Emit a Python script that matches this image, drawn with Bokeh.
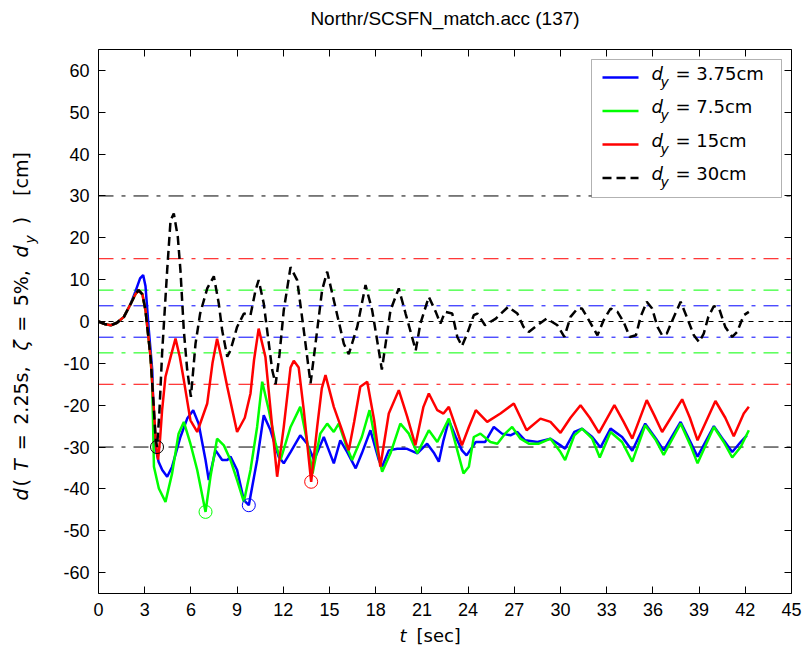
from math import pi
from bokeh.plotting import figure
from bokeh.models import Range1d, FixedTicker, LinearAxis, Label, BoxAnnotation
from bokeh.embed import file_html
from bokeh.resources import INLINE

# ---------------- data ----------------
title_text = "Northr/SCSFN_match.acc (137)"
x_ticks = list(range(0, 46, 3))
y_ticks = list(range(-60, 61, 10))
dy_values = [3.75, 7.5, 15, 30]
dy_labels = ["= 3.75cm", "= 7.5cm", "= 15cm", "= 30cm"]
series_colors = ["#0000ff", "#00ff00", "#ff0000", "#000000"]

blue_pts = [(0,0),(0.4,-0.6),(0.8,-0.9),(1.2,-0.3),(1.65,1.1),(2.1,4.3),(2.4,7.2),(2.7,10.3),(2.9,11.1),
    (3.05,8.5),(3.27,-2.1),(3.49,-11.6),(3.6,-25.2),(3.7,-30),(3.9,-33.5),(4.14,-35.5),(4.46,-37.1),
    (4.78,-34.7),(5.32,-27.6),(5.76,-23.2),(6.15,-21.2),(6.5,-24.4),(6.95,-33.1),(7.16,-37.9),(7.6,-30.8),
    (8.03,-33.1),(8.36,-33.1),(8.57,-32.3),(9.0,-35.5),(9.44,-42.7),(9.76,-43.9),(10.3,-33.1),(10.73,-22.4),
    (11.17,-26),(11.7,-32.3),(12.03,-33.9),(12.47,-31.2),(13.1,-27.2),(13.55,-29.2),(14.0,-33.1),(14.4,-29.6),
    (14.63,-27.6),(15.28,-33.9),(15.7,-28.4),(16.15,-31.2),(16.7,-35.1),(17.1,-31.5),(17.66,-26),(18.2,-33.1),
    (18.42,-34.7),(18.85,-30.8),(19.4,-30.4),(20.0,-30.4),(20.7,-31.5),(21.34,-29.2),(21.8,-31.5),(22.1,-33.5),
    (22.4,-28.4),(22.75,-23.6),(23.2,-27.6),(23.6,-30.8),(23.9,-32),(24.5,-28.8),(25.1,-28.8),(25.67,-25.2),
    (26.2,-26.8),(26.75,-27.2),(27.2,-26.4),(27.7,-28.4),(28.5,-28.8),(29.35,-28),(30.0,-29.6),(30.3,-30.4),
    (30.9,-26.4),(31.4,-25.6),(32.06,-27.6),(32.6,-30.1),(33.25,-25.6),(34.0,-27.6),(34.66,-30.9),(35.5,-24.4),
    (36.2,-28),(36.7,-30.8),(37.8,-24),(38.44,-28.8),(38.9,-32.3),(39.96,-25),(40.6,-28.4),(41.15,-31.2),
    (41.7,-28.8),(42.1,-27.2)]

green_pts = [(0,0),(0.4,-0.6),(0.8,-0.9),(1.2,-0.3),(1.65,1.1),(2.1,4.3),(2.4,6.5),(2.6,7.5),(2.85,6.5),
    (3.05,2.7),(3.38,-8.5),(3.49,-15),(3.6,-34.7),(3.92,-39.9),(4.35,-43.1),(4.78,-36.3),(5.2,-26.8),
    (5.54,-24),(5.97,-29.2),(6.41,-35.5),(6.95,-45.5),(7.27,-37.1),(7.7,-28),(8.14,-29.6),(8.57,-33.1),
    (9.0,-37.9),(9.44,-43.1),(9.87,-35.5),(10.3,-25.2),(10.63,-14.4),(11.06,-21.2),(11.5,-29.2),(11.82,-33.1),
    (12.47,-25.2),(13.1,-20.4),(13.66,-30.8),(13.9,-36.3),(14.4,-26.8),(14.85,-24.4),(15.28,-26.4),(15.6,-24.4),
    (16.04,-29.2),(16.47,-33.1),(17.1,-27.6),(17.6,-21.2),(18.1,-30.8),(18.42,-35.9),(18.96,-31.5),(19.6,-24.4),
    (20.15,-26.8),(20.7,-31.5),(21.45,-26),(22.0,-28.8),(22.75,-23.2),(23.3,-30.8),(23.7,-36.3),(24.05,-34.7),
    (24.37,-27.6),(24.8,-26.8),(25.45,-28.8),(25.9,-29.2),(26.4,-26.8),(26.86,-25.2),(27.4,-28),(27.94,-29.2),
    (28.6,-29.2),(29.35,-28),(30.0,-31.2),(30.3,-33.1),(30.9,-27.2),(31.4,-25.6),(32.06,-28),(32.55,-32.5),
    (33.25,-26.4),(34.0,-28.8),(34.66,-33.5),(35.5,-24.8),(36.2,-28.4),(36.7,-31.9),(37.8,-24.4),(38.44,-29.6),
    (38.9,-33.9),(39.96,-25.2),(40.6,-28.8),(41.15,-32.5),(41.7,-30),(42.23,-26)]

red_pts = [(0,0),(0.4,-0.6),(0.8,-0.9),(1.2,-0.3),(1.65,1.1),(2.1,4.3),(2.4,6.5),(2.6,7.5),(2.85,6.5),
    (3.05,2.7),(3.38,-8.5),(3.6,-21.2),(3.75,-30),(3.87,-33),(4.0,-28),(4.13,-21.2),(4.35,-13.2),(4.68,-8.5),
    (5.0,-4.1),(5.28,-8.5),(5.54,-14),(5.97,-23.6),(6.41,-26.4),(7.06,-19.6),(7.4,-10),(7.7,-4.1),(8.0,-9),
    (8.36,-15.6),(9.0,-26.4),(9.5,-23),(9.87,-17.2),(10.1,-9.2),(10.4,-1.7),(10.84,-8.5),(11.28,-25.2),
    (11.6,-37.1),(12.03,-25.2),(12.47,-11),(12.68,-9.4),(13.0,-11),(13.33,-21.2),(13.81,-38.3),(14.2,-25.2),
    (14.5,-16),(14.74,-12.8),(15.28,-20.4),(15.82,-26),(16.25,-30.8),(16.6,-24),(17.0,-15.6),(17.45,-14.4),
    (17.9,-23.6),(18.3,-34.7),(18.85,-22),(19.5,-16.4),(20.05,-22.8),(20.58,-29.6),(21.1,-20.4),(21.45,-17.2),
    (22.0,-21.2),(22.4,-22),(22.75,-20.4),(23.2,-25.2),(23.6,-29.6),(24.05,-25.2),(24.5,-21.2),(25.24,-24),
    (26.1,-22),(26.97,-19.6),(27.8,-26),(28.7,-23.2),(29.35,-24),(30.0,-26.6),(30.65,-23),(31.3,-20),
    (31.9,-23),(32.5,-26.6),(33.5,-20),(34.1,-24),(34.66,-28),(35.6,-18.8),(36.1,-22.5),(36.6,-26.4),
    (37.9,-18.6),(38.4,-23),(38.9,-28.4),(40.06,-19),(40.7,-23),(41.25,-27.4),(41.9,-22),(42.23,-20.4)]

black_pts = [(0,0),(0.4,-0.6),(0.8,-0.9),(1.2,-0.3),(1.65,1.1),(2.1,4.3),(2.4,6.5),(2.6,7.5),(2.85,6.5),
    (3.05,2.7),(3.38,-8.5),(3.6,-21.2),(3.7,-27.6),(3.8,-30),(3.95,-22),(4.13,-7.6),(4.46,12.3),(4.68,24.2),
    (4.89,25.8),(5.15,20.2),(5.32,12.3),(5.54,-2.1),(5.76,-11.6),(6.0,-18),(6.3,-5.3),(6.6,1.9),(7.06,7.9),
    (7.49,10.8),(7.81,4.3),(8.03,-2.1),(8.36,-8.4),(8.57,-6.9),(9.0,-1.3),(9.44,1.9),(9.87,1.5),(10.2,7.5),
    (10.4,9.9),(10.73,4.3),(11.28,-11.6),(11.5,-15),(11.75,-8),(12.03,2.7),(12.47,13.0),(12.9,9.9),
    (13.33,-2.1),(13.77,-14.8),(14.2,-2.1),(14.52,7.5),(14.85,11.9),(15.28,5.1),(15.93,-5.3),(16.25,-7.8),
    (16.8,-1.3),(17.34,8.7),(17.77,2.7),(18.2,-6.9),(18.4,-11.5),(18.96,2.7),(19.5,7.9),(19.94,1.9),
    (20.6,-6.9),(20.9,-0.5),(21.45,5.9),(21.9,2.3),(22.2,-0.5),(22.5,2.3),(22.97,1.9),(23.3,-3.7),(23.6,-5.9),
    (23.94,-2.9),(24.37,1.5),(24.6,1.9),(25.1,-0.9),(25.8,0.7),(26.6,3.5),(27.2,1.9),(27.6,-1.3),(27.94,-2.5),
    (28.5,-0.9),(29.1,0.7),(29.8,-0.9),(30.25,-3.7),(30.65,1.1),(31.1,3.1),(31.4,3.1),(31.84,0.3),(32.4,-3.3),
    (32.8,0.3),(33.25,3.1),(33.7,2.3),(34.1,-0.1),(34.5,-3.7),(34.9,-3.3),(35.2,1.1),(35.6,4.7),(35.95,3.1),
    (36.3,-1.3),(36.6,-3.3),(36.9,-2.9),(37.36,1.1),(37.8,4.7),(38.2,1.1),(38.66,-3.3),(39.0,-4.9),(39.3,-2.9),
    (39.6,1.1),(39.96,3.7),(40.3,3.1),(40.7,-1.3),(41.15,-3.7),(41.47,-2.5),(41.9,1.5),(42.23,2.3)]

# peak |d| markers (circled points)
peak_t = [9.76, 6.95, 13.81, 3.8]
peak_d = [-43.9, -45.5, -38.3, -30.0]

# ---------------- geometry ----------------
W, H = 802, 657
FL, FR, FT, FB = 98, 791, 49, 593          # axes box edges in page pixels
X0, X1, Y0, Y1 = 0, 45, -65, 65            # axes limits

def px2x(px):
    return X0 + (px - FL) * (X1 - X0) / (FR - FL)

def py2y(py):
    return Y0 + (FB - py) * (Y1 - Y0) / (FB - FT)

# the frame covers the whole canvas; the axes are drawn at fixed locations
p = figure(width=W, height=H, min_border=0,
           x_range=Range1d(px2x(0), px2x(W)), y_range=Range1d(py2y(H), py2y(0)),
           output_backend="svg", toolbar_location=None)
p.background_fill_color = "white"
p.border_fill_color = "white"
p.outline_line_color = None
p.xgrid.visible = False
p.ygrid.visible = False

TICK_FONT = "Liberation Sans"
TEX_FONT = "DejaVu Sans"

def style_axis(ax, ticks, show_labels):
    ax.ticker = FixedTicker(ticks=ticks)
    ax.axis_line_color = "black"
    ax.axis_line_width = 1
    ax.major_tick_line_color = "black"
    ax.major_tick_in = 7
    ax.major_tick_out = 0
    ax.minor_tick_line_color = None
    ax.major_label_text_font = TICK_FONT
    ax.major_label_text_color = "black"
    ax.major_label_text_font_size = "18px"
    if show_labels:
        ax.major_label_overrides = {v: str(v) for v in ticks}
    else:
        ax.major_label_overrides = {v: "" for v in ticks}
        ax.major_label_text_alpha = 0

xb = p.xaxis[0]
style_axis(xb, x_ticks, True)
xb.fixed_location = Y0
xb.bounds = (X0, X1)
xb.major_label_standoff = 9

yl = p.yaxis[0]
style_axis(yl, y_ticks, True)
yl.fixed_location = X0
yl.bounds = (Y0, Y1)
yl.major_label_standoff = 9

top_ax = LinearAxis(fixed_location=Y1, bounds=(X0, X1))
style_axis(top_ax, x_ticks, False)
p.add_layout(top_ax, "above")
right_ax = LinearAxis(fixed_location=X1, bounds=(Y0, Y1))
style_axis(right_ax, y_ticks, False)
p.add_layout(right_ax, "right")

# ---------------- reference lines ----------------
DASHDOT = "15 8 4 8"
for v, c in zip(dy_values, series_colors):
    for s in (1, -1):
        p.line([X0, X1], [s * v, s * v], line_color=c, line_width=1, line_dash=DASHDOT)
p.line([X0, X1], [0, 0], line_color="black", line_width=1, line_dash="5 5")

# ---------------- series ----------------
all_pts = [blue_pts, green_pts, red_pts, black_pts]
for pts, c in zip(all_pts, series_colors):
    t = [a for a, b in pts]
    d = [b for a, b in pts]
    if c == "#000000":
        p.line(t, d, line_color=c, line_width=2.5, line_dash="9 5")
    else:
        p.line(t, d, line_color=c, line_width=2.5)

p.scatter(peak_t, peak_d, marker="circle", size=13, fill_color=None,
          line_color=series_colors, line_width=1)

# ---------------- legend (drawn by hand for the subscript) ----------------
p.add_layout(BoxAnnotation(left=px2x(591), right=px2x(781), top=py2y(59), bottom=py2y(197),
                           fill_color="white", fill_alpha=1.0, line_color="black", line_width=1))
row_y = [77, 110.5, 144, 177.5]
for ry, c, lab in zip(row_y, series_colors, dy_labels):
    r = p.line([px2x(602), px2x(638)], [py2y(ry), py2y(ry)], line_color=c, line_width=2.5,
               line_dash=("9 5" if c == "#000000" else "solid"))
    r.level = "overlay"
    p.add_layout(Label(x=px2x(651), y=py2y(ry + 6), text="d", text_font=TEX_FONT, text_color="black",
                       text_font_style="italic", text_font_size="18px"))
    p.add_layout(Label(x=px2x(660), y=py2y(ry + 12), text="y", text_font=TEX_FONT, text_color="black",
                       text_font_style="italic", text_font_size="14px"))
    p.add_layout(Label(x=px2x(675), y=py2y(ry + 6), text=lab, text_font=TEX_FONT, text_color="black",
                       text_font_size="18px"))

# ---------------- title ----------------
p.add_layout(Label(x=px2x((FL + FR) / 2), y=py2y(28), text=title_text, text_align="center",
                   text_font=TICK_FONT, text_font_size="19px", text_color="black"))

# ---------------- x label ----------------
p.add_layout(Label(x=px2x(399), y=py2y(645), text="t", text_font=TEX_FONT, text_color="black",
                   text_font_style="italic", text_font_size="18px"))
p.add_layout(Label(x=px2x(416), y=py2y(645), text="[sec]", text_font=TEX_FONT, text_color="black",
                   text_font_size="18px"))

# ---------------- y label (rotated pieces, reading upwards) ----------------
# (text, style, font px, advance in em, gap after in em, baseline shift px)
ylab_pieces = [("d", "italic", 19, 0.635, 0.0, 0), ("(", "normal", 19, 0.390, 0.33, 0),
               ("T", "italic", 19, 0.611, 0.33, 0), ("=", "normal", 19, 0.838, 0.33, 0),
               ("2.25s,", "normal", 19, 3.065, 0.33, 0), ("\u03b6", "italic", 19, 0.52, 0.33, 0),
               ("=", "normal", 19, 0.838, 0.33, 0), ("5%,", "normal", 19, 1.904, 0.33, 0),
               ("d", "italic", 19, 0.635, 0.0, 0), ("y", "italic", 14, 0.592, 0.45, 6),
               (")", "normal", 19, 0.390, 0.9, 0), ("[cm]", "normal", 19, 2.304, 0.0, 0)]
start_py, end_py = 500, 145
natural = sum(adv * fs + gap * 19 for _, _, fs, adv, gap, _ in ylab_pieces)
stretch = (start_py - end_py) / natural
pos = start_py
for txt, style, fs, adv, gap, shift in ylab_pieces:
    p.add_layout(Label(x=px2x(31 + shift), y=py2y(pos), text=txt, angle=pi / 2, text_color="black",
                       text_font=TEX_FONT, text_font_style=style, text_font_size=f"{fs}px"))
    pos -= (adv * fs + gap * 19) * stretch

open("out.html", "w").write(file_html(p, INLINE))
